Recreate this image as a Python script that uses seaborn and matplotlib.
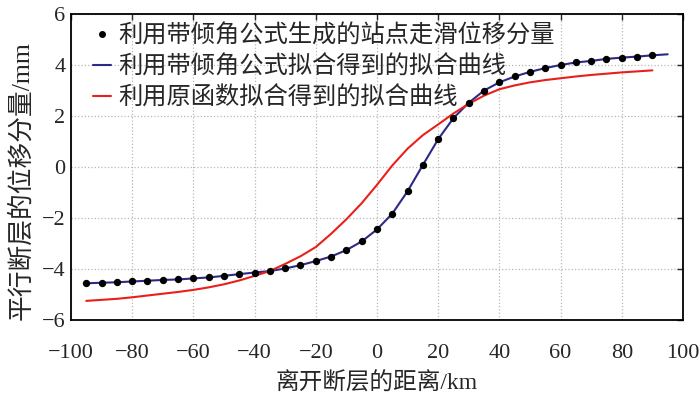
import matplotlib
matplotlib.use("Agg")
import matplotlib.pyplot as plt
import seaborn as sns
from matplotlib.lines import Line2D

# distance from fault (km) and fault-parallel displacement (mm)
dot_x = [-95, -90, -85, -80, -75, -70, -65, -60, -55, -50, -45, -40, -35, -30,
         -25, -20, -15, -10, -5, 0, 5, 10, 15, 20, 25, 30, 35, 40, 45, 50,
         55, 60, 65, 70, 75, 80, 85, 90]
dot_y = [-4.56, -4.54, -4.52, -4.49, -4.46, -4.43, -4.41, -4.37, -4.33, -4.27,
         -4.20, -4.14, -4.08, -3.98, -3.85, -3.69, -3.51, -3.26, -2.92, -2.45,
         -1.83, -0.95, 0.08, 1.09, 1.92, 2.52, 3.00, 3.32, 3.55, 3.73,
         3.88, 4.00, 4.10, 4.16, 4.24, 4.29, 4.33, 4.38]

blue_x = dot_x + [95]
blue_y = dot_y + [4.42]

red_x = dot_x
red_y = [-5.25, -5.21, -5.17, -5.11, -5.04, -4.97, -4.90, -4.82, -4.72, -4.60,
         -4.45, -4.27, -4.08, -3.80, -3.50, -3.14, -2.62, -2.05, -1.42, -0.70,
         0.06, 0.72, 1.25, 1.67, 2.10, 2.48, 2.80, 3.05, 3.20, 3.32,
         3.41, 3.48, 3.55, 3.61, 3.66, 3.71, 3.75, 3.79]

labels = ["利用带倾角公式生成的站点走滑位移分量",
          "利用带倾角公式拟合得到的拟合曲线",
          "利用原函数拟合得到的拟合曲线"]

sns.set_style("white")
plt.rcParams["font.family"] = ["Liberation Serif", "Noto Sans CJK SC"]
plt.rcParams["axes.unicode_minus"] = True

fig = plt.figure(figsize=(7, 3.98), dpi=100)
ax = fig.add_axes([0.1014, 0.196, 0.8743, 0.7688])

blue = "#2c2a86"
red = "#e8201c"

sns.lineplot(x=blue_x, y=blue_y, ax=ax, color=blue, linewidth=1.5)
sns.lineplot(x=red_x, y=red_y, ax=ax, color=red, linewidth=1.5)
sns.scatterplot(x=dot_x, y=dot_y, ax=ax, color="black", s=28,
                edgecolor="black", linewidth=0, zorder=5)

ax.set_xlim(-100, 100)
ax.set_ylim(-6, 6)
ax.set_xticks(range(-100, 101, 20))
ax.set_yticks(range(-6, 7, 2))
ax.grid(True, linestyle=":", color="#b8b8b8", linewidth=0.9)
ax.tick_params(direction="in", length=4, width=1, top=True, right=True,
               labelsize=16)
ax.tick_params(axis="x", pad=17)
ax.tick_params(axis="y", pad=4)
for s in ax.spines.values():
    s.set_color("black")
    s.set_linewidth(1.3)

ax.set_xlabel("离开断层的距离/km", fontsize=17, labelpad=7)
ax.set_ylabel("平行断层的位移分量/mm", fontsize=18.5)
ax.yaxis.set_label_coords(-0.062, 0.455)

handles = [
    Line2D([], [], marker="o", color="black", linestyle="none", markersize=4),
    Line2D([], [], color=blue, linewidth=1.5),
    Line2D([], [], color=red, linewidth=1.5),
]
ax.legend(handles, labels, loc="upper left", frameon=False, fontsize=17.5,
          handlelength=0.75, handletextpad=0.3, labelspacing=0.32,
          borderpad=0, borderaxespad=0, bbox_to_anchor=(0.036, 0.965))

fig.savefig("out.png", dpi=100)
